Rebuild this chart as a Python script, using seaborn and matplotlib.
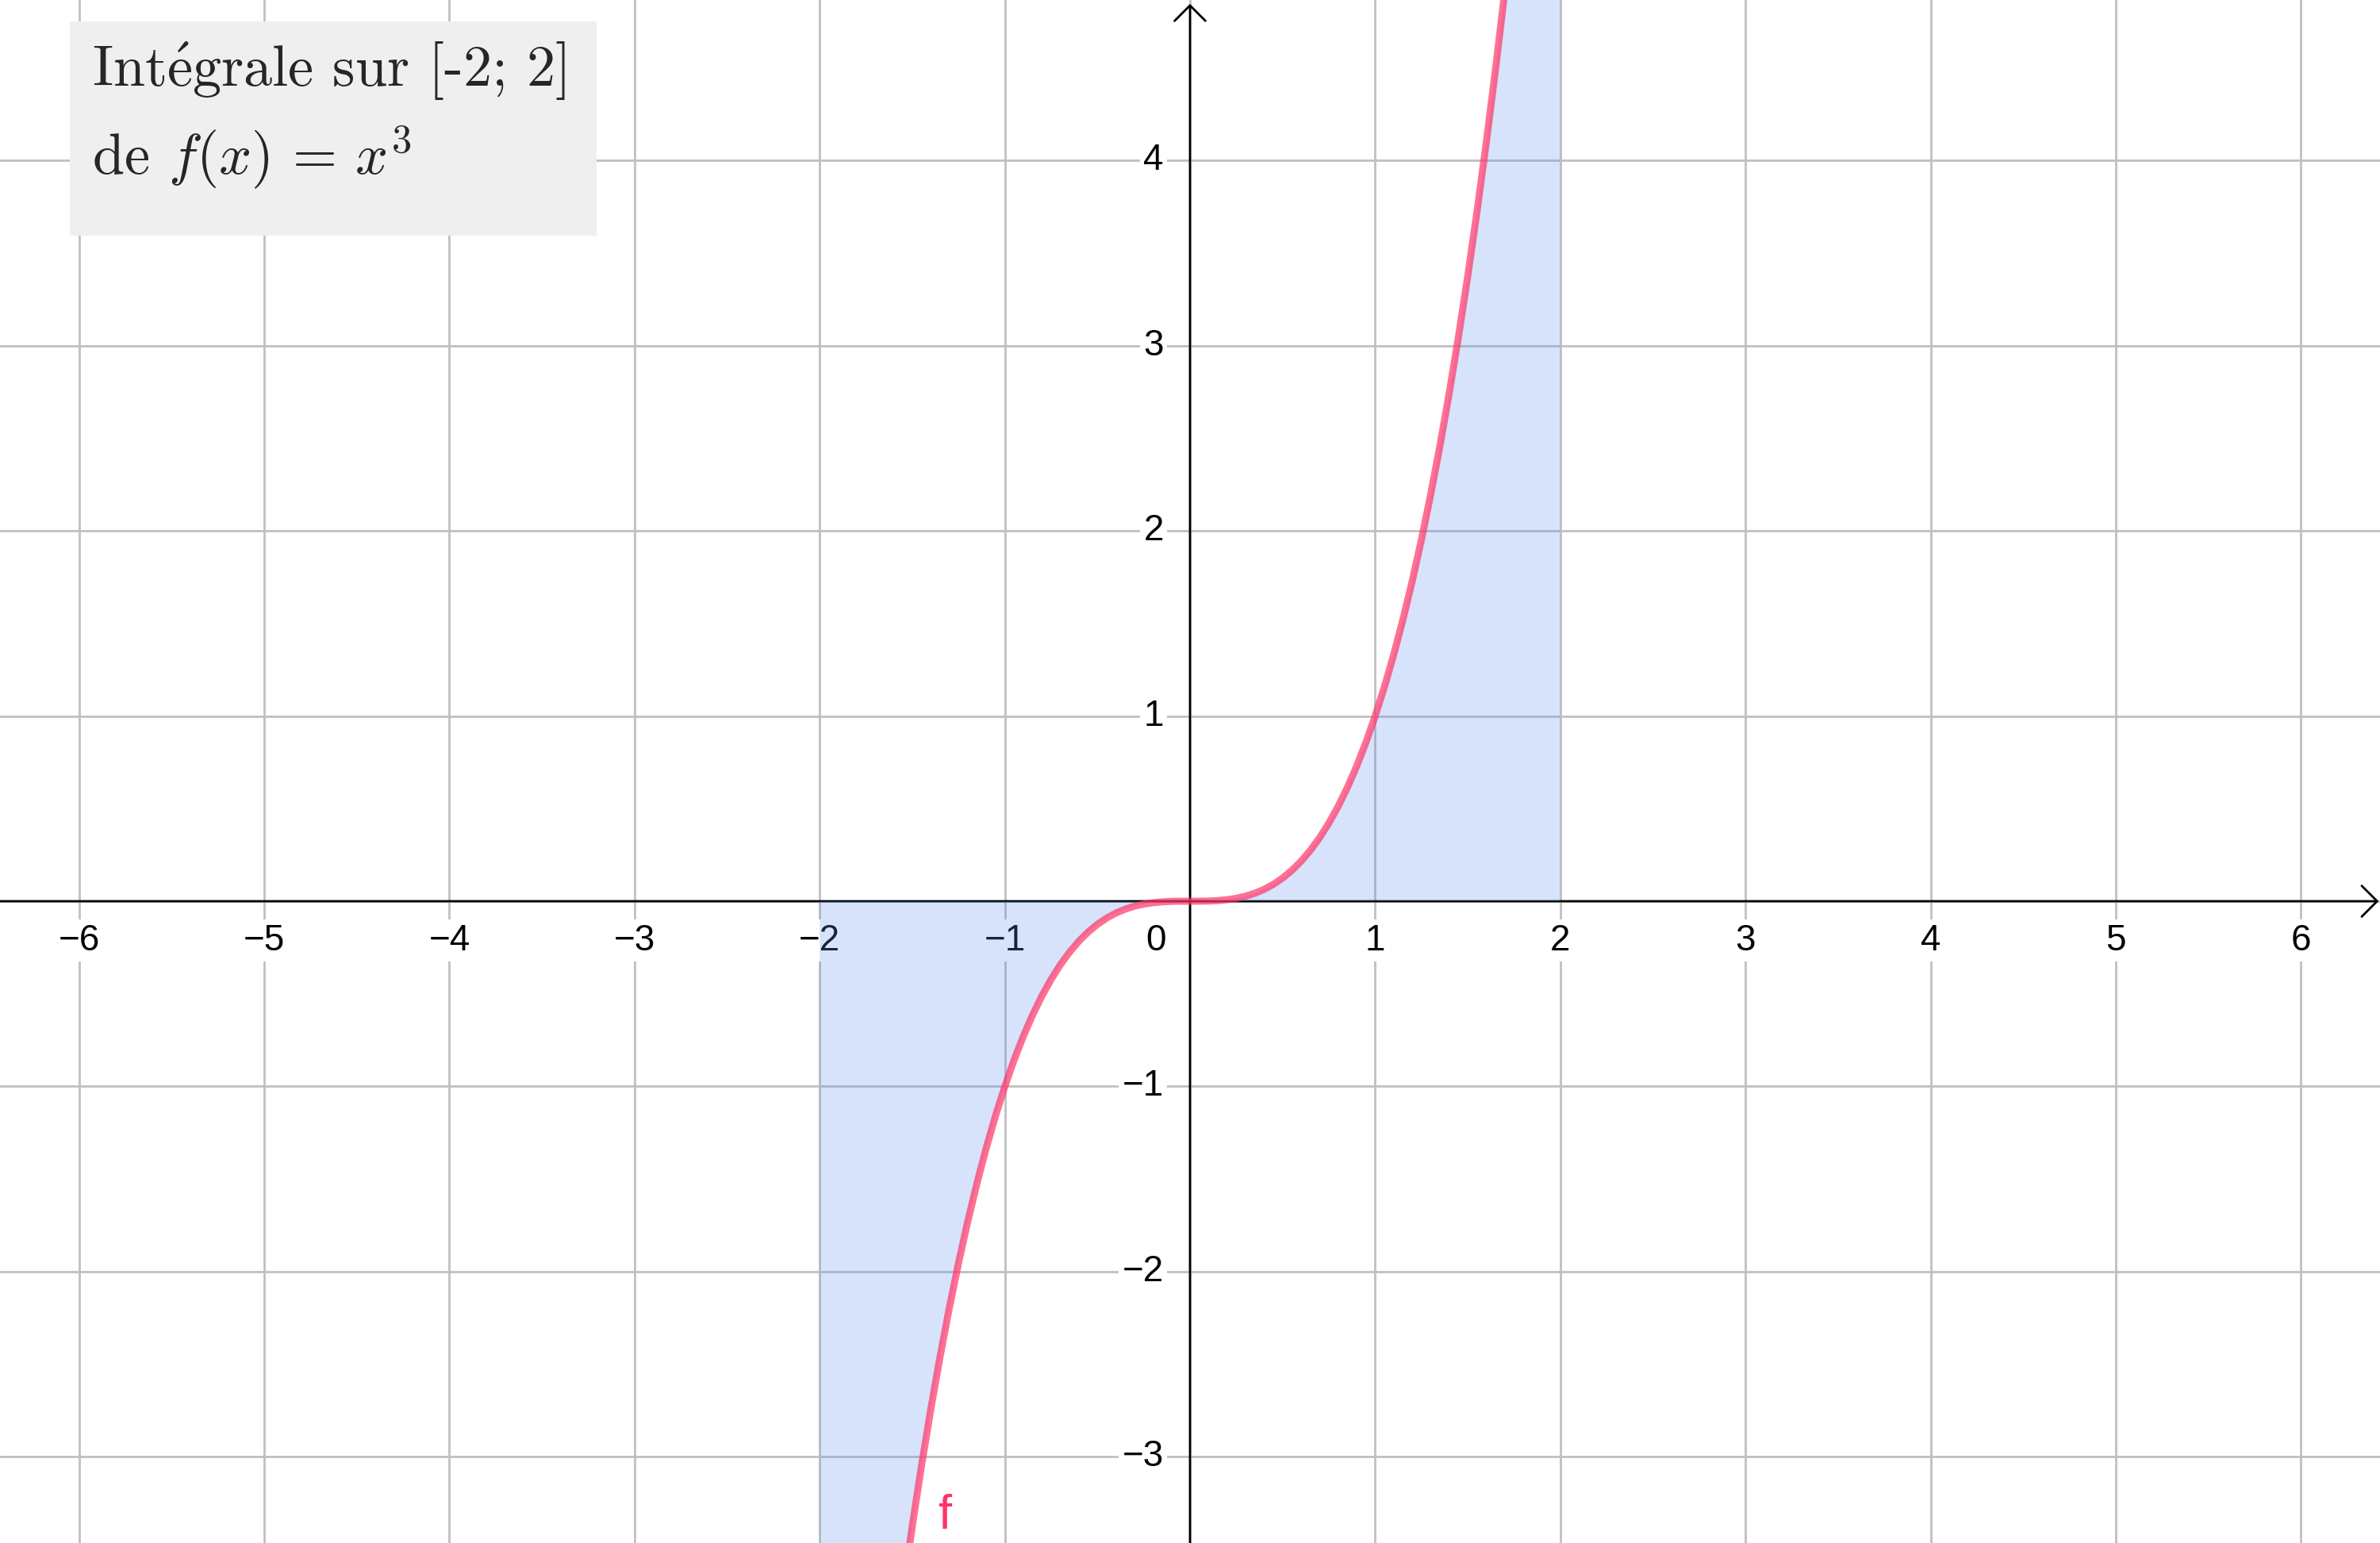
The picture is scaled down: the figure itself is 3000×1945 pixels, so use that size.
import matplotlib
matplotlib.use("Agg")
import matplotlib.pyplot as plt
import seaborn as sns
from matplotlib.patches import Rectangle

# f(x) = x^3
x_vals = [-2.00, -1.95, -1.90, -1.85, -1.80, -1.75, -1.70, -1.65, -1.60, -1.55,
          -1.50, -1.45, -1.40, -1.35, -1.30, -1.25, -1.20, -1.15, -1.10, -1.05,
          -1.00, -0.95, -0.90, -0.85, -0.80, -0.75, -0.70, -0.65, -0.60, -0.55,
          -0.50, -0.45, -0.40, -0.35, -0.30, -0.25, -0.20, -0.15, -0.10, -0.05,
          0.00,
          0.05, 0.10, 0.15, 0.20, 0.25, 0.30, 0.35, 0.40, 0.45, 0.50,
          0.55, 0.60, 0.65, 0.70, 0.75, 0.80, 0.85, 0.90, 0.95, 1.00,
          1.05, 1.10, 1.15, 1.20, 1.25, 1.30, 1.35, 1.40, 1.45, 1.50,
          1.55, 1.60, 1.65, 1.70, 1.75, 1.80, 1.85, 1.90, 1.95, 2.00]
y_vals = [-8.0000, -7.4149, -6.8590, -6.3316, -5.8320, -5.3594, -4.9130, -4.4921, -4.0960, -3.7239,
          -3.3750, -3.0486, -2.7440, -2.4604, -2.1970, -1.9531, -1.7280, -1.5209, -1.3310, -1.1576,
          -1.0000, -0.8574, -0.7290, -0.6141, -0.5120, -0.4219, -0.3430, -0.2746, -0.2160, -0.1664,
          -0.1250, -0.0911, -0.0640, -0.0429, -0.0270, -0.0156, -0.0080, -0.0034, -0.0010, -0.0001,
          0.0000,
          0.0001, 0.0010, 0.0034, 0.0080, 0.0156, 0.0270, 0.0429, 0.0640, 0.0911, 0.1250,
          0.1664, 0.2160, 0.2746, 0.3430, 0.4219, 0.5120, 0.6141, 0.7290, 0.8574, 1.0000,
          1.1576, 1.3310, 1.5209, 1.7280, 1.9531, 2.1970, 2.4604, 2.7440, 3.0486, 3.3750,
          3.7239, 4.0960, 4.4921, 4.9130, 5.3594, 5.8320, 6.3316, 6.8590, 7.4149, 8.0000]

x_ticks = [-6, -5, -4, -3, -2, -1, 1, 2, 3, 4, 5, 6]
y_ticks = [-3, -2, -1, 1, 2, 3, 4]
bounds = (-2, 2)

title_line1 = "Int$\\mathrm{\\acute{e}}$grale sur [-2; 2]"
title_line2 = "de $f(x)\\,=\\,x^3$"

sns.set_theme(style="white")
plt.rcParams["mathtext.fontset"] = "cm"
plt.rcParams["font.family"] = ["Liberation Sans", "DejaVu Sans"]

fig = plt.figure(figsize=(15, 9.725), dpi=200)
ax = fig.add_axes([0, 0, 1, 1])
ax.set_xlim(-6.427, 6.427)
ax.set_ylim(-3.466, 4.867)

# grid
ax.set_xticks(range(-6, 7))
ax.set_yticks(range(-3, 5))
ax.grid(True, color="#c0c0c0", linewidth=1.0)
ax.set_axisbelow(True)
ax.tick_params(length=0, labelbottom=False, labelleft=False)
for s in ax.spines.values():
    s.set_visible(False)

# axes with arrows
arrow = dict(arrowstyle="->,head_length=0.35,head_width=0.35", color="black",
             lw=1.0, mutation_scale=20, shrinkA=0, shrinkB=0)
ax.annotate("", xy=(6.42, 0), xytext=(-6.5, 0), arrowprops=arrow, zorder=2.5)
ax.annotate("", xy=(0, 4.846), xytext=(0, -3.6), arrowprops=arrow, zorder=2.5)

# tick labels
box = dict(boxstyle="square,pad=0.1", fc="white", ec="none")
for t in x_ticks:
    lab = str(t).replace("-", "\u2212")
    ax.annotate(lab, xy=(t, 0), xytext=(0, -10), textcoords="offset points",
                ha="center", va="top", fontsize=16.5, color="black", bbox=box, zorder=2)
for t in y_ticks:
    lab = str(t).replace("-", "\u2212")
    ax.annotate(lab, xy=(0, t), xytext=(-12, 0), textcoords="offset points",
                ha="right", va="center", fontsize=16.5, color="black", bbox=box, zorder=2)
ax.annotate("0", xy=(0, 0), xytext=(-11, -10), textcoords="offset points",
            ha="right", va="top", fontsize=16.5, color="black", zorder=2)

# shaded integral
fx = [x for x in x_vals if bounds[0] <= x <= bounds[1]]
fy = [y for x, y in zip(x_vals, y_vals) if bounds[0] <= x <= bounds[1]]
ax.fill_between(fx, fy, 0, color="#5c91f0", alpha=0.25, linewidth=0, zorder=3)

# curve
sns.lineplot(x=x_vals, y=y_vals, sort=False, estimator=None, color="#ff3366",
             alpha=0.7, linewidth=3.2, ax=ax, zorder=4)
ax.text(-1.36, -3.39, "f", color="#ff3366", fontsize=22, ha="left", va="baseline", zorder=5)

# title box
ax.add_patch(Rectangle((0.0293, 0.8473), 0.2213, 0.1388, transform=ax.transAxes,
                       facecolor="#efefef", edgecolor="none", zorder=6))
ax.text(0.0387, 0.9445, title_line1, transform=ax.transAxes, fontsize=26,
        family=["cmr10", "DejaVu Serif"], ha="left", va="baseline", zorder=7)
ax.text(0.0387, 0.8869, title_line2, transform=ax.transAxes, fontsize=26,
        family=["cmr10", "DejaVu Serif"], ha="left", va="baseline", zorder=7)

fig.savefig("out.png", dpi=200)
